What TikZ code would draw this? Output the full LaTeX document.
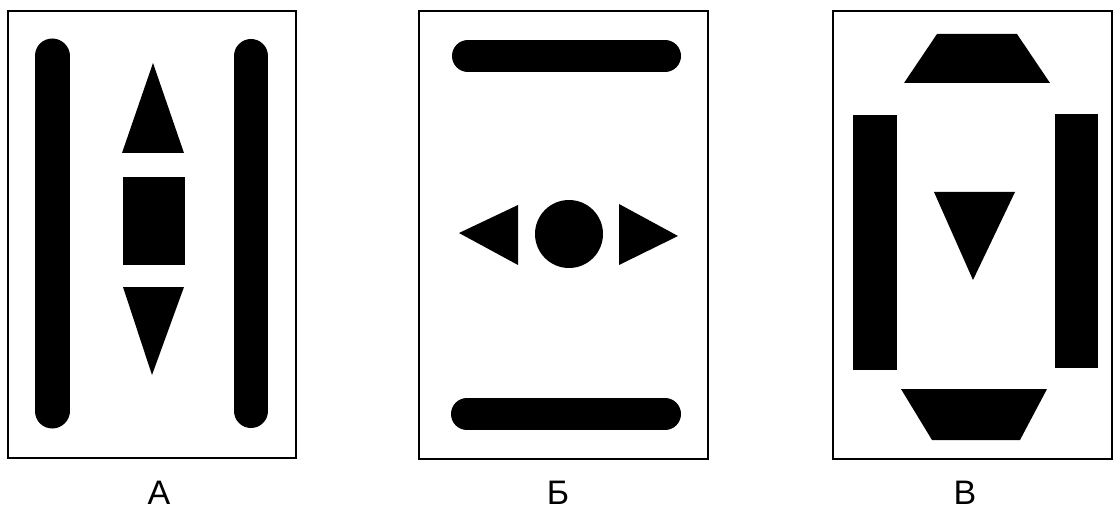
\documentclass[tikz,border=0pt]{standalone}
\usepackage{fontspec}
\setmainfont{Liberation Sans}
\begin{document}
\begin{tikzpicture}[x=1pt,y=-1pt,
  frame/.style={draw=black,line width=2pt},
  bar/.style={draw=black,line cap=round},
  solid/.style={fill=black,draw=none},
  lbl/.style={font=\fontsize{34}{40}\selectfont,inner sep=0pt}]
\useasboundingbox (0,0) rectangle (1114,513);
% Panel A
\draw[frame] (8,11) rectangle (296,458);
\draw[bar,line width=35pt] (52,56) -- (52,411);
\draw[bar,line width=34pt] (251,56) -- (251,411);
\fill[solid] (153,63) -- (184,153) -- (122,153) -- cycle;
\fill[solid] (123,177) rectangle (185,265);
\fill[solid] (123,287) -- (184,287) -- (152,375) -- cycle;
\node[lbl] (la) at (159,493) {А};
% Panel B
\draw[frame] (419,11) rectangle (708,459);
\draw[bar,line width=32pt] (468,56) -- (665,56);
\draw[bar,line width=32pt] (467,414) -- (665,414);
\fill[solid] (569,234) circle (34);
\fill[solid] (459,233) -- (518,205) -- (518,265) -- cycle;
\fill[solid] (619,204) -- (678,236) -- (619,265) -- cycle;
\node[lbl] (lb) at (558,493) {Б};
% Panel V
\draw[frame] (833,11) rectangle (1112,459);
\fill[solid] (937,34) -- (1017,34) -- (1050,83) -- (904,83) -- cycle;
\fill[solid] (853,115) rectangle (897,370);
\fill[solid] (1055,114) rectangle (1098,368);
\fill[solid] (934,192) -- (1015,192) -- (973,280) -- cycle;
\fill[solid] (901,389) -- (1047,389) -- (1020,440) -- (932,440) -- cycle;
\node[lbl] (lv) at (965,493) {В};
\end{tikzpicture}
\end{document}
